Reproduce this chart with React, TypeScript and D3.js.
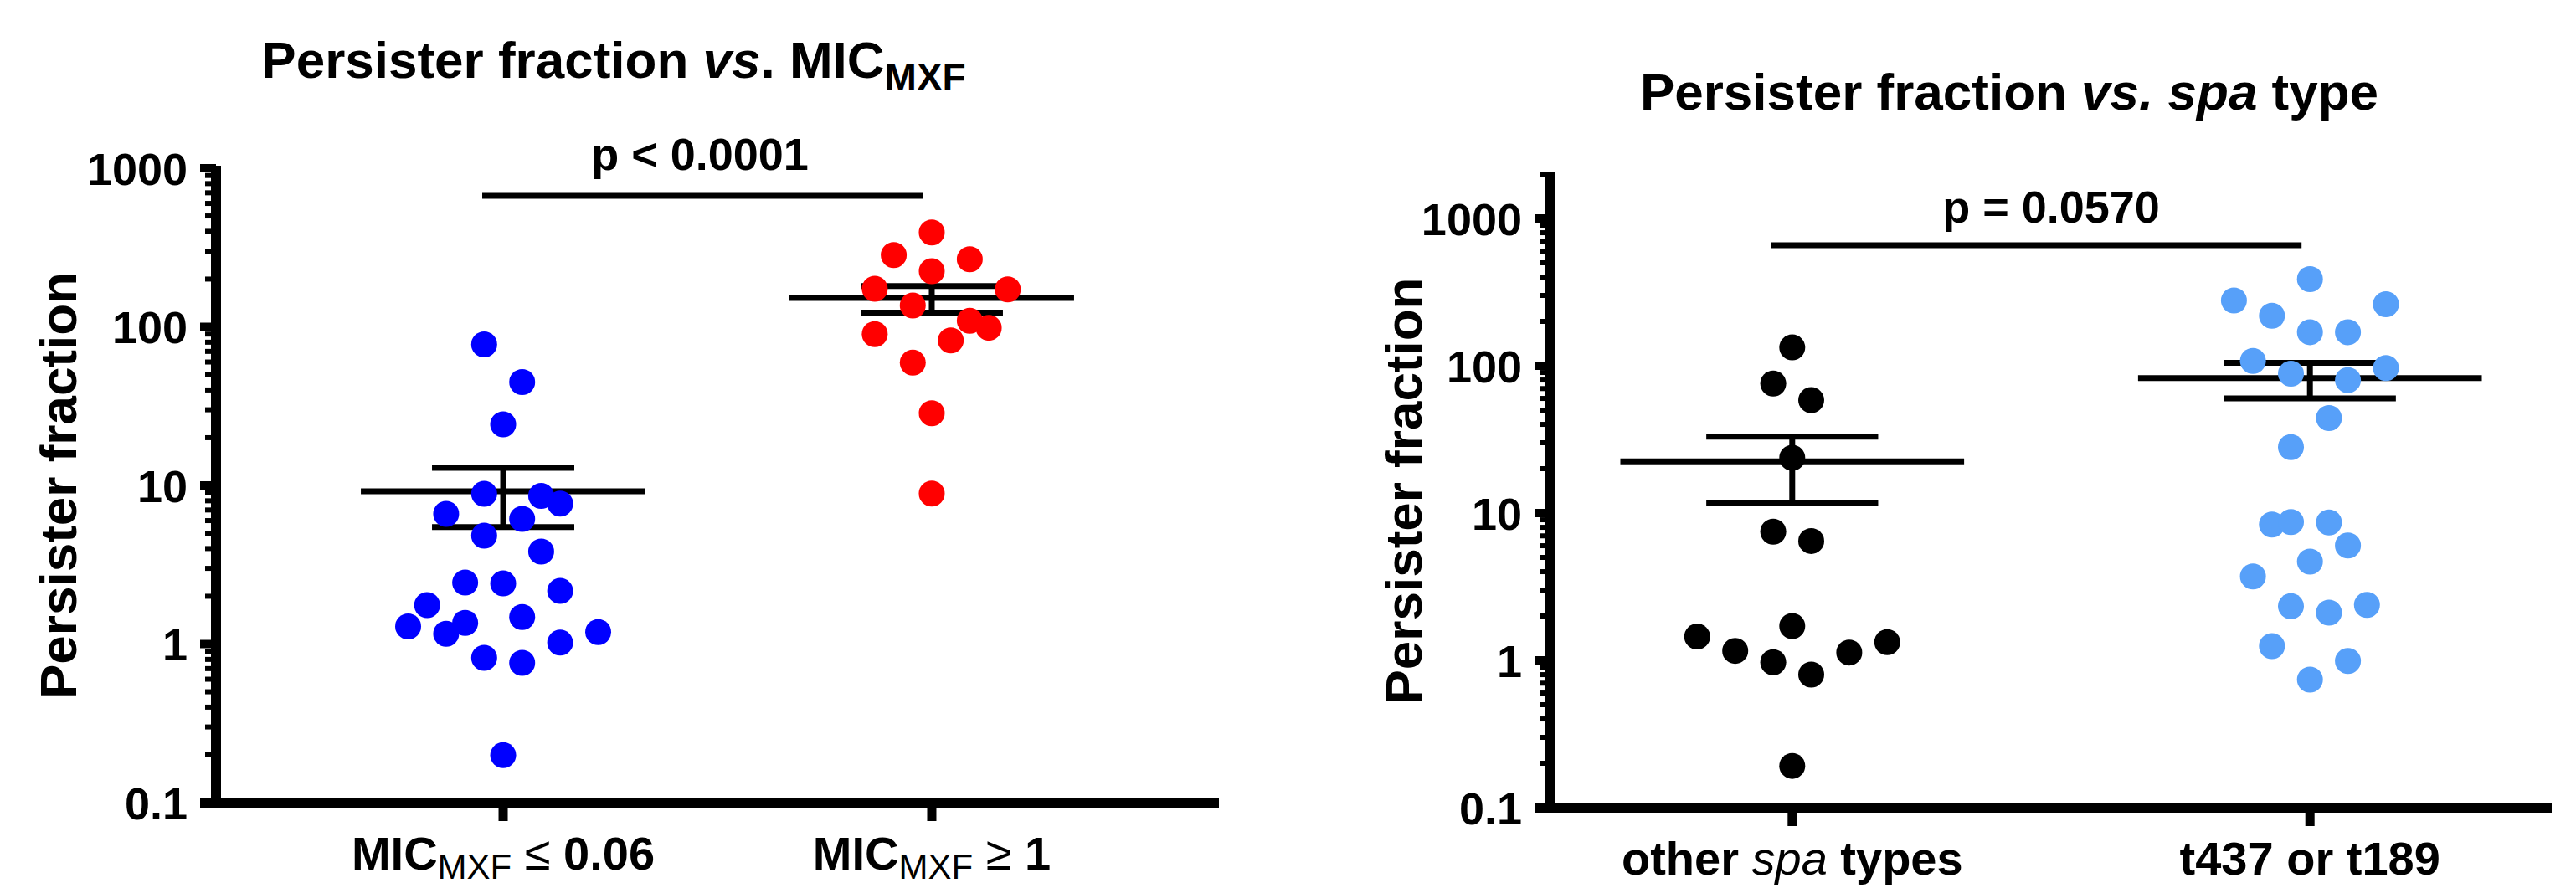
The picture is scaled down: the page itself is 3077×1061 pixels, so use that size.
import React from "react";
import * as d3 from "d3";

const FONT = "'Liberation Sans', Arial, Helvetica, sans-serif";

// ---------- data ----------
const micCategories = ["MIC_MXF <= 0.06", "MIC_MXF >= 1"];
const micLowValues = [77.5, 44.8, 24.3, 8.86, 8.59, 7.68, 6.62, 6.15, 4.82, 3.83, 2.44, 2.41, 2.16, 1.76, 1.29, 1.36, 1.16, 1.48, 1.19, 1.02, 0.818, 0.761, 0.199];
const micLowLanes = [-1, 1, 0, -1, 2, 3, -3, 1, -1, 2, -2, 0, 3, -4, -5, -2, -3, 1, 5, 3, -1, 1, 0];
const micHighValues = [393.8, 283.7, 266.9, 224.4, 173.9, 172.3, 136.3, 109.1, 98.6, 89.9, 82.1, 59.4, 28.5, 8.89];
const micHighLanes = [0, -2, 2, 0, -3, 4, -1, 2, 3, -3, 1, -1, 0, 0];

const spaCategories = ["other spa types", "t437 or t189"];
const otherSpaValues = [133.2, 75.8, 58.4, 23.7, 7.48, 6.46, 1.71, 1.45, 1.16, 0.97, 0.8, 1.13, 1.33, 0.192];
const otherSpaLanes = [0, -1, 1, 0, -1, 1, 0, -5, -3, -1, 1, 3, 5, 0];
const t437Values = [387, 277.5, 261.6, 218.4, 169, 169, 107.8, 96.4, 88.3, 79.9, 44.1, 28.0, 8.35, 8.69, 8.64, 6.02, 4.68, 3.71, 2.33, 2.11, 2.38, 1.25, 0.99, 0.74];
const t437Lanes = [0, -4, 4, -2, 0, 2, -3, 4, -1, 2, 1, -1, -2, -1, 1, 2, 0, -3, -1, 1, 3, -2, 2, 0];

const majorTicks = [0.1, 1, 10, 100, 1000];
const majorTickLabels = ["0.1", "1", "10", "100", "1000"];
const pLeft = "p < 0.0001";
const pRight = "p = 0.0570";

const COLORS = { blue: "#0000ff", red: "#ff0000", black: "#000000", light: "#57a0f9" };

type Group = { values: number[]; lanes: number[]; color: string };

function minorTicks(max: number) {
  const out: number[] = [];
  for (let d = 0.1; d < max; d *= 10) {
    for (let k = 2; k <= 9; k++) {
      const v = +(k * d).toPrecision(3);
      if (v <= max + 1e-9) out.push(v);
    }
  }
  return out;
}

function Panel(props: {
  cats: string[];
  groups: Group[];
  axisX: number;
  axisEnd: number;
  padding: number;
  yBottom: number;
  decade: number;
  yMax: number;
  laneStep: number;
  r: number;
  pText: string;
  pTextX: number;
  pTextY: number;
  pBarY: number;
  xLabelY: number;
  yLabelX: number;
  renderXLabel: (i: number) => React.ReactNode;
}) {
  const { cats, groups, axisX, axisEnd, padding, yBottom, decade, yMax, laneStep, r } = props;
  const yTop = yBottom - decade * Math.log10(yMax / 0.1);
  const y = d3.scaleLog().domain([0.1, yMax]).range([yBottom, yTop]);
  const x = d3.scalePoint<string>().domain(cats).range([axisX, axisEnd]).padding(padding);
  const step = x.step();
  const minors = minorTicks(yMax);
  const yMid = (yTop + yBottom) / 2;

  return (
    <g>
      {/* y axis label */}
      <text
        transform={`translate(${props.yLabelX},${yMid}) rotate(-90)`}
        textAnchor="middle"
        fontFamily={FONT}
        fontWeight="bold"
        fontSize={62}
      >
        Persister fraction
      </text>
      {/* minor ticks */}
      {minors.map((v) => (
        <line key={"m" + v} x1={axisX - 13} x2={axisX} y1={y(v)} y2={y(v)} stroke="#000" strokeWidth={6} />
      ))}
      {/* major ticks and labels */}
      {majorTicks.map((v, i) => (
        <g key={"M" + v}>
          <line x1={axisX - 19} x2={axisX} y1={y(v)} y2={y(v)} stroke="#000" strokeWidth={10} />
          <text
            x={axisX - 34}
            y={y(v) + 19.5}
            textAnchor="end"
            fontFamily={FONT}
            fontWeight="bold"
            fontSize={54}
          >
            {majorTickLabels[i]}
          </text>
        </g>
      ))}
      {/* axes */}
      <line x1={axisX} x2={axisX} y1={yTop - 3} y2={yBottom + 6} stroke="#000" strokeWidth={12} />
      <line x1={axisX - 19} x2={axisEnd} y1={yBottom} y2={yBottom} stroke="#000" strokeWidth={12} />
      {cats.map((c) => (
        <line key={"xt" + c} x1={x(c)!} x2={x(c)!} y1={yBottom} y2={yBottom + 22} stroke="#000" strokeWidth={11} />
      ))}
      {/* x labels */}
      {cats.map((c, i) => (
        <text key={"xl" + c} x={x(c)!} y={props.xLabelY} textAnchor="middle" fontFamily={FONT} fontSize={56}>
          {props.renderXLabel(i)}
        </text>
      ))}
      {/* significance bar */}
      <line
        x1={x(cats[0])! - 25}
        x2={x(cats[1])! - 10}
        y1={props.pBarY}
        y2={props.pBarY}
        stroke="#000"
        strokeWidth={7}
      />
      <text x={props.pTextX} y={props.pTextY} textAnchor="middle" fontFamily={FONT} fontWeight="bold" fontSize={54}>
        {props.pText}
      </text>
      {/* mean +/- SEM */}
      {groups.map((g, i) => {
        const cx = x(cats[i])!;
        const m = d3.mean(g.values)!;
        const sem = d3.deviation(g.values)! / Math.sqrt(g.values.length);
        const hw = step * 0.332;
        const cw = step * 0.166;
        return (
          <g key={"ms" + i}>
            <line x1={cx - hw} x2={cx + hw} y1={y(m)} y2={y(m)} stroke="#000" strokeWidth={7} />
            <line x1={cx} x2={cx} y1={y(m + sem)} y2={y(m - sem)} stroke="#000" strokeWidth={7} />
            <line x1={cx - cw} x2={cx + cw} y1={y(m + sem)} y2={y(m + sem)} stroke="#000" strokeWidth={7} />
            <line x1={cx - cw} x2={cx + cw} y1={y(m - sem)} y2={y(m - sem)} stroke="#000" strokeWidth={7} />
          </g>
        );
      })}
      {/* points */}
      {groups.map((g, i) =>
        g.values.map((v, j) => (
          <circle
            key={"p" + i + "-" + j}
            cx={x(cats[i])! + g.lanes[j] * laneStep}
            cy={y(v)}
            r={r}
            fill={g.color}
          />
        ))
      )}
    </g>
  );
}

export default function App() {
  return (
    <svg
      width={3077}
      height={1061}
      viewBox="0 0 3077 1061"
      style={{ position: "absolute", left: 0, top: 0, background: "#fff" }}
    >
      <rect x={0} y={0} width={3077} height={1061} fill="#fff" />
      {/* left title */}
      <text x={733} y={93} textAnchor="middle" fontFamily={FONT} fontWeight="bold" fontSize={62}>
        <tspan>{"Persister fraction "}</tspan>
        <tspan fontStyle="italic">vs</tspan>
        <tspan>{". MIC"}</tspan>
        <tspan fontSize={46} dy={15}>MXF</tspan>
      </text>
      <Panel
        cats={micCategories}
        groups={[
          { values: micLowValues, lanes: micLowLanes, color: COLORS.blue },
          { values: micHighValues, lanes: micHighLanes, color: COLORS.red },
        ]}
        axisX={258}
        axisEnd={1456}
        padding={0.67}
        yBottom={959}
        decade={189.5}
        yMax={1000}
        laneStep={22.7}
        r={15.5}
        pText={pLeft}
        pTextX={836}
        pTextY={203}
        pBarY={234}
        xLabelY={1039}
        yLabelX={91}
        renderXLabel={(i) => (
          <>
            <tspan fontWeight="bold">MIC</tspan>
            <tspan fontSize={42} dy={11}>MXF</tspan>
            <tspan dy={-11}>{i === 0 ? " \u2264 " : " \u2265 "}</tspan>
            <tspan fontWeight="bold">{i === 0 ? "0.06" : "1"}</tspan>
          </>
        )}
      />
      {/* right title */}
      <text x={2400} y={131} textAnchor="middle" fontFamily={FONT} fontWeight="bold" fontSize={62}>
        <tspan>{"Persister fraction "}</tspan>
        <tspan fontStyle="italic">vs.</tspan>
        <tspan>{" "}</tspan>
        <tspan fontStyle="italic">spa</tspan>
        <tspan>{" type"}</tspan>
      </text>
      <Panel
        cats={spaCategories}
        groups={[
          { values: otherSpaValues, lanes: otherSpaLanes, color: COLORS.black },
          { values: t437Values, lanes: t437Lanes, color: COLORS.light },
        ]}
        axisX={1852}
        axisEnd={3048}
        padding={0.467}
        yBottom={965}
        decade={176}
        yMax={2000}
        laneStep={22.7}
        r={15.5}
        pText={pRight}
        pTextX={2450}
        pTextY={266}
        pBarY={293}
        xLabelY={1045}
        yLabelX={1698}
        renderXLabel={(i) =>
          i === 0 ? (
            <>
              <tspan fontWeight="bold">{"other "}</tspan>
              <tspan fontStyle="italic">spa</tspan>
              <tspan fontWeight="bold">{" types"}</tspan>
            </>
          ) : (
            <tspan fontWeight="bold">t437 or t189</tspan>
          )
        }
      />
    </svg>
  );
}
